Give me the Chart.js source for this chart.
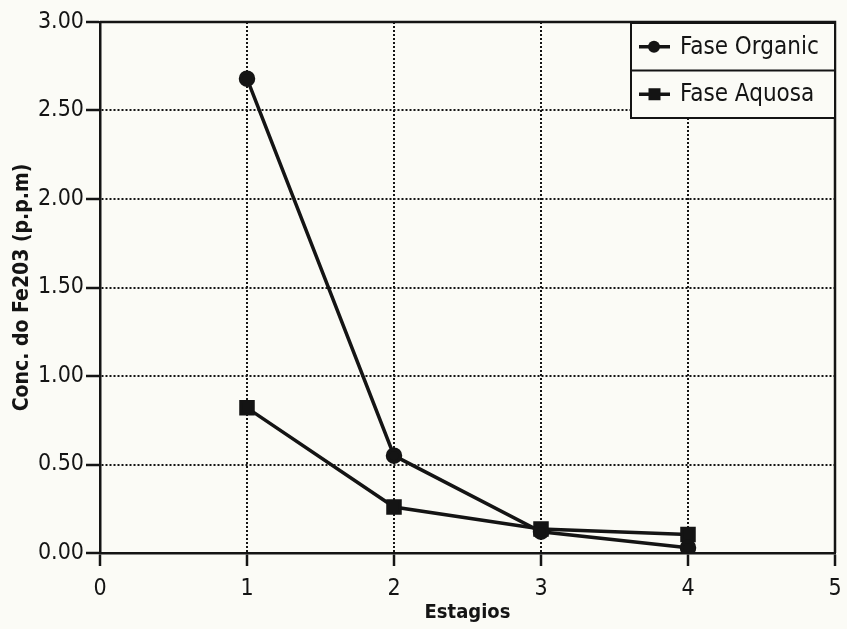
<!DOCTYPE html>
<html>
<head>
<meta charset="utf-8">
<script src="https://cdn.jsdelivr.net/npm/chart.js@4/dist/chart.umd.min.js"></script>
<style>
  html, body { margin: 0; padding: 0; background: #fbfbf6; }
  #wrap { width: 847px; height: 629px; }
</style>
</head>
<body>
<div id="wrap"><canvas id="myChart"></canvas></div>
<script>
// values
const estagios = [1, 2, 3, 4];
const faseOrganic = [2.68, 0.55, 0.12, 0.03];
const faseAquosa = [0.82, 0.26, 0.135, 0.105];
const seriesNames = ['Fase Organic', 'Fase Aquosa'];
const xTicks = [0, 1, 2, 3, 4, 5];
const yTicks = [0, 0.5, 1, 1.5, 2, 2.5, 3];

const ink = '#141414';
const paper = '#fbfbf6';
const fontFam = '"DejaVu Sans Condensed", "DejaVu Sans", sans-serif';

Chart.defaults.font.family = fontFam;
Chart.defaults.color = ink;

const toPoints = (ys) => estagios.map((x, i) => ({ x: x, y: ys[i] }));

// grid line on the inner ticks only, edges are the frame
const innerGrid = (ticks) => (c) => {
  const v = c.tick ? c.tick.value : null;
  return (v === ticks[0] || v === ticks[ticks.length - 1]) ? 'rgba(0,0,0,0)' : ink;
};

// top and right sides of the frame
const frame = {
  id: 'frame',
  afterDatasetsDraw(chart) {
    const { ctx, chartArea: a } = chart;
    ctx.save();
    ctx.strokeStyle = ink;
    ctx.lineWidth = 2.5;
    ctx.beginPath();
    ctx.moveTo(a.left, a.top);
    ctx.lineTo(a.right, a.top);
    ctx.lineTo(a.right, a.bottom);
    ctx.stroke();
    ctx.restore();
  }
};

// boxed legend in the top right corner
const boxLegend = {
  id: 'boxLegend',
  afterDraw(chart) {
    const { ctx, chartArea: a } = chart;
    const w = 204, rowH = 47.5;
    const x0 = a.right - w, y0 = a.top + 1;
    ctx.save();
    ctx.fillStyle = paper;
    ctx.fillRect(x0, y0, w, rowH * 2);
    ctx.strokeStyle = ink;
    ctx.lineWidth = 2;
    ctx.strokeRect(x0, y0, w, rowH * 2);
    ctx.beginPath();
    ctx.moveTo(x0, y0 + rowH);
    ctx.lineTo(x0 + w, y0 + rowH);
    ctx.stroke();
    chart.data.datasets.forEach((ds, i) => {
      const cy = y0 + rowH * i + rowH / 2;
      ctx.lineWidth = 3.5;
      ctx.beginPath();
      ctx.moveTo(x0 + 8, cy);
      ctx.lineTo(x0 + 39, cy);
      ctx.stroke();
      ctx.fillStyle = ink;
      if (ds.pointStyle === 'circle') {
        ctx.beginPath();
        ctx.arc(x0 + 23, cy, 6, 0, Math.PI * 2);
        ctx.fill();
      } else {
        ctx.fillRect(x0 + 17.5, cy - 6, 12, 12);
      }
      ctx.font = '24px ' + fontFam;
      ctx.textBaseline = 'middle';
      ctx.textAlign = 'left';
      ctx.fillText(ds.label, x0 + 49, cy + 1);
    });
    ctx.restore();
  }
};

new Chart(document.getElementById('myChart'), {
  type: 'line',
  data: {
    datasets: [{
      label: seriesNames[0],
      data: toPoints(faseOrganic),
      borderColor: ink,
      backgroundColor: ink,
      borderWidth: 3.5,
      pointStyle: 'circle',
      pointRadius: 6.5,
      pointHoverRadius: 6.5,
      tension: 0
    },
    {
      label: seriesNames[1],
      data: toPoints(faseAquosa),
      borderColor: ink,
      backgroundColor: ink,
      borderWidth: 3.5,
      pointStyle: 'rect',
      pointRadius: 8.5,
      pointHoverRadius: 8.5,
      tension: 0
    }]
  },
  options: {
    responsive: true,
    maintainAspectRatio: false,
    animation: false,
    events: [],
    layout: { padding: { top: 22, right: 8, left: 0, bottom: 0 } },
    plugins: {
      legend: { display: false },
      tooltip: { enabled: false }
    },
    scales: {
      x: {
        type: 'linear',
        min: xTicks[0],
        max: xTicks[xTicks.length - 1],
        afterBuildTicks: (s) => { s.ticks = xTicks.map(v => ({ value: v })); },
        afterFit: (s) => { s.height = 76; s.paddingLeft = 0; s.paddingRight = 0; },
        ticks: {
          font: { size: 23 },
          color: ink,
          padding: 9,
          callback: (v) => String(v)
        },
        grid: {
          color: innerGrid(xTicks),
          lineWidth: 2,
          tickColor: ink,
          tickWidth: 2.5,
          tickLength: 13
        },
        border: { display: true, color: ink, width: 2.5, dash: [2, 2] },
        title: {
          display: true,
          text: 'Estagios',
          font: { size: 20, weight: 'bold' },
          color: ink,
          padding: { top: 0, bottom: 4 }
        }
      },
      y: {
        type: 'linear',
        min: yTicks[0],
        max: yTicks[yTicks.length - 1],
        afterBuildTicks: (s) => { s.ticks = yTicks.map(v => ({ value: v })); },
        afterFit: (s) => { s.width = 100; },
        ticks: {
          font: { size: 23 },
          color: ink,
          padding: 2,
          callback: (v) => Number(v).toFixed(2)
        },
        grid: {
          color: innerGrid(yTicks),
          lineWidth: 2,
          tickColor: ink,
          tickWidth: 2.5,
          tickLength: 14
        },
        border: { display: true, color: ink, width: 2.5, dash: [2, 2] },
        title: {
          display: true,
          text: 'Conc. do Fe203 (p.p.m)',
          font: { size: 21, weight: 'bold' },
          color: ink,
          padding: { top: 10, bottom: 0 }
        }
      }
    }
  },
  plugins: [frame, boxLegend]
});
</script>
</body>
</html>
